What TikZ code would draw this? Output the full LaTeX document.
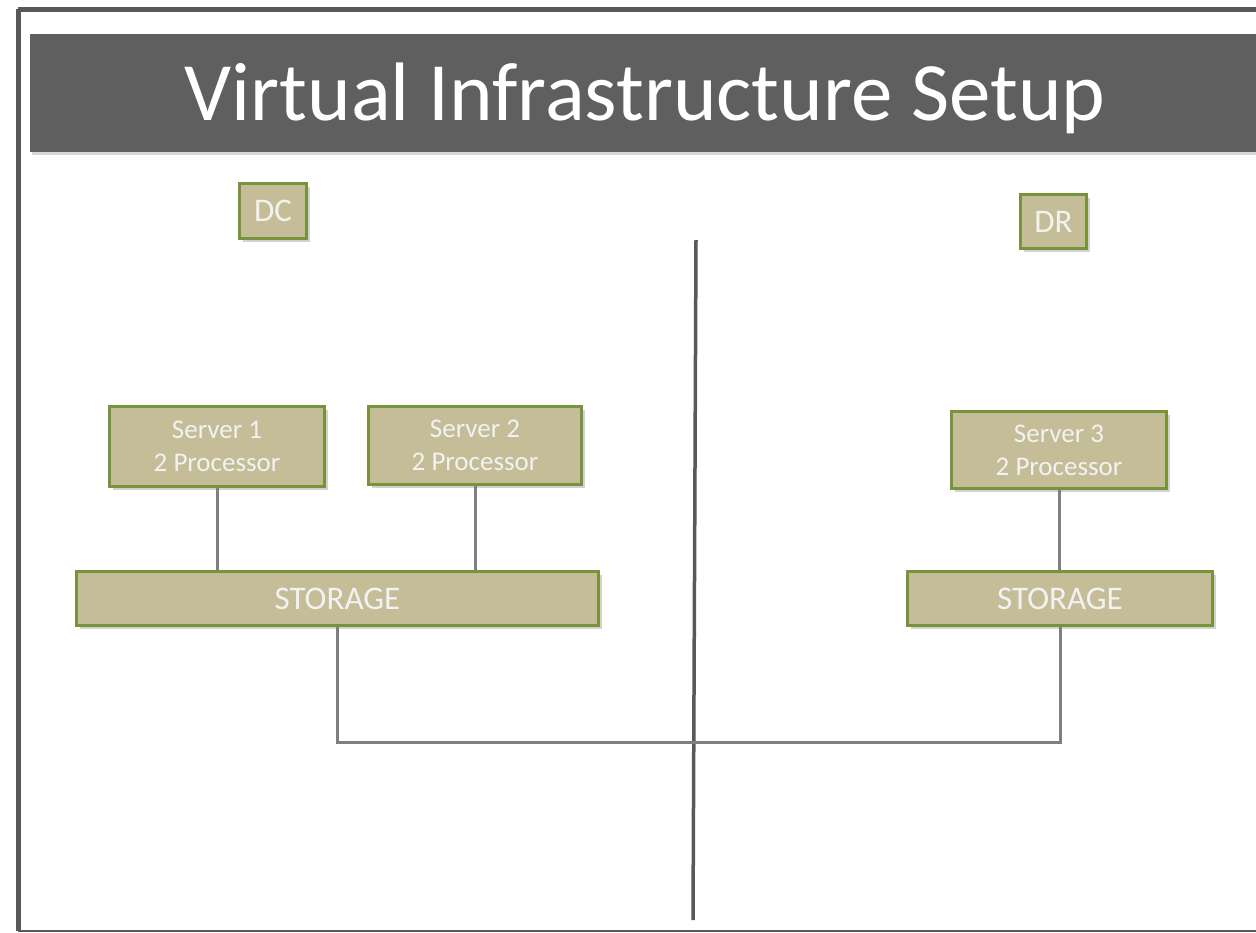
\documentclass[tikz,border=0pt]{standalone}
\usepackage{fontspec}
\setmainfont{Carlito}
\usetikzlibrary{shapes, arrows, positioning, calc, backgrounds, shadows}
\definecolor{boxfill}{HTML}{C4BD97}
\definecolor{boxline}{HTML}{77933C}
\definecolor{barfill}{HTML}{5F5F5F}
\definecolor{wire}{HTML}{7F7F7F}
\definecolor{frame}{HTML}{595959}
\tikzstyle{block} = [rectangle, draw=boxline, fill=boxfill, line width=3pt, inner sep=0pt, text=white!95!black, align=center, drop shadow={shadow xshift=3pt, shadow yshift=-3pt, opacity=0.35}]
\tikzstyle{tag} = [block, font=\fontsize{33}{36}\selectfont]
\tikzstyle{server} = [block, font=\fontsize{27}{33}\selectfont]
\tikzstyle{store} = [block, font=\fontsize{33}{36}\selectfont]
\tikzstyle{line} = [draw=wire, line width=3pt]

\begin{document}
\begin{tikzpicture}[x=1pt, y=-1pt]
            \clip (0,0) rectangle (1256,932);
            \fill[white] (0,0) rectangle (1256,932);
            % Frame and title
            \draw[frame, line width=5pt] (18,9) -- (1300,9);
            \draw[frame, line width=5pt] (18,9) -- (18,931);
            \draw[frame, line width=2pt] (18,931) -- (1300,931);
            \fill[barfill, drop shadow={shadow xshift=2pt, shadow yshift=-3pt, opacity=0.3}] (30,34) rectangle (1290,152);
            \node[anchor=base, text=white, font=\fontsize{83}{90}\selectfont] (title) at (645,120) {Virtual Infrastructure Setup};

            % Nodes
            \node [tag, minimum width=67pt, minimum height=55pt] (dc) at (273,211) {DC};
            \node [tag, minimum width=66pt, minimum height=54pt] (dr) at (1053.5,221.5) {DR};
            \node [server, minimum width=215pt, minimum height=80pt] (srvone) at (217,446.5) {Server 1\\2 Processor};
            \node [server, minimum width=213pt, minimum height=78pt] (srvtwo) at (475,445.5) {Server 2\\2 Processor};
            \node [server, minimum width=215pt, minimum height=77pt] (srvthree) at (1059,450) {Server 3\\2 Processor};
            \node [store, minimum width=522pt, minimum height=54pt] (stleft) at (337.5,598.5) {STORAGE};
            \node [store, minimum width=305pt, minimum height=54pt] (stright) at (1060,598.5) {STORAGE};
            \coordinate (divtop) at (696,240);
            \coordinate (divbot) at (693,920);
            \coordinate (midlink) at (695,742);

            % Lines
            \draw [frame, line width=3.5pt] (divtop) -- (divbot);
            \path [line] (srvone.south) -- (srvone.south |- stleft.north);
            \path [line] (srvtwo.south) -- (srvtwo.south |- stleft.north);
            \path [line] (srvthree.south) -- (srvthree.south |- stright.north);
            \path [line] (stleft.south) |- (midlink) -| (stright.south);
        \end{tikzpicture}
\end{document}
